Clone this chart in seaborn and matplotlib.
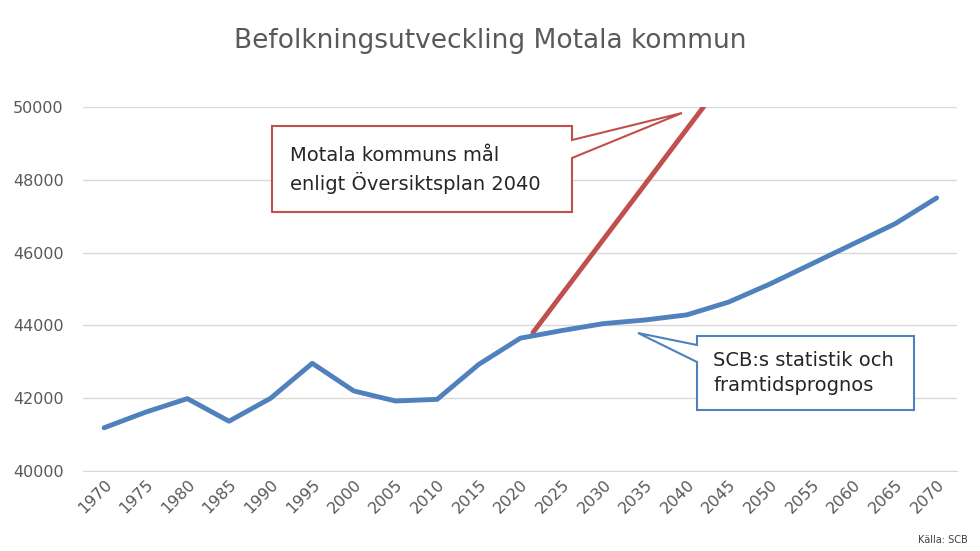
import numpy as np
import pandas as pd
import seaborn as sns
import matplotlib.pyplot as plt
from matplotlib.patches import Polygon

years = list(range(1970, 2071, 5))
population = [41190, 41620, 41990, 41370, 42000, 42960, 42200, 41925, 41970, 42930,
              43650, 43860, 44050, 44150, 44290, 44640, 45140, 45690, 46240, 46790, 47500]
goal_years = [2021.5, 2042]
goal_population = [43800, 50000]

df = pd.DataFrame({'year': years, 'population': population})
goal = pd.DataFrame({'year': goal_years, 'population': goal_population})

plt.rcParams['font.family'] = 'Open Sans'
sns.set_style('white')

fig = plt.figure(figsize=(9.8, 5.51), dpi=100)
ax = fig.add_axes([0.085, 0.145, 0.892, 0.661])

sns.lineplot(data=df, x='year', y='population', ax=ax, color='#4f81bd', lw=3.5, zorder=3)
sns.lineplot(data=goal, x='year', y='population', ax=ax, color='#c0504d', lw=3.5, zorder=2)

ax.set_xlim(1967.5, 2072.5)
ax.set_ylim(40000, 50000)
ax.set_yticks(range(40000, 50001, 2000))
ax.set_xticks(years)
ax.set_xticklabels([str(y) for y in years], rotation=45, ha='right', rotation_mode='anchor', fontsize=11.5, color='#595959')
ax.tick_params(axis='y', labelsize=11.5, labelcolor='#595959', length=0, pad=14)
ax.tick_params(axis='x', length=0, pad=4)
ax.grid(axis='y', color='#d9d9d9', lw=1)
ax.set_axisbelow(True)
for s in ['top', 'right', 'left']:
    ax.spines[s].set_visible(False)
ax.spines['bottom'].set_color('#d9d9d9')
ax.set_xlabel('')
ax.set_ylabel('')

fig.text(0.5, 0.925, 'Befolkningsutveckling Motala kommun', ha='center', va='center', fontsize=19, color='#595959')

def px(pts):
    return [(x / 980, 1 - y / 551) for x, y in pts]

red = Polygon(px([(272, 126), (572, 126), (572, 140), (682, 113), (572, 158), (572, 212), (272, 212)]),
              closed=True, fc='white', ec='#c0504d', lw=1.5, transform=fig.transFigure, zorder=5)
fig.add_artist(red)
fig.text(290 / 980, 1 - 170 / 551, 'Motala kommuns mål\nenligt Översiktsplan 2040', fontsize=14,
         va='center', ha='left', linespacing=1.35, zorder=6)

blue = Polygon(px([(697, 336), (914, 336), (914, 410), (697, 410), (697, 362), (638, 333), (697, 345)]),
               closed=True, fc='white', ec='#4f81bd', lw=1.5, transform=fig.transFigure, zorder=5)
fig.add_artist(blue)
fig.text(713 / 980, 1 - 373 / 551, 'SCB:s statistik och\nframtidsprognos', fontsize=14,
         va='center', ha='left', linespacing=1.35, zorder=6)

fig.text(968 / 980, 1 - 540 / 551, 'Källa: SCB', fontsize=7, ha='right', va='center', color='#404040')

fig.savefig('out.png', dpi=100)
